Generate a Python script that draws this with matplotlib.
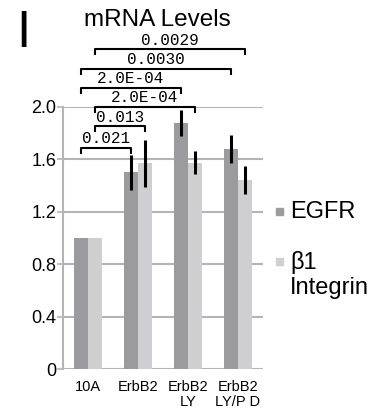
import numpy as np
import matplotlib.pyplot as plt
from matplotlib.patches import Rectangle

# data
groups = ['10A', 'ErbB2', 'ErbB2\nLY', 'ErbB2\nLY/P D']
egfr = [1.0, 1.50, 1.88, 1.68]
egfr_err = [0, 0.136, 0.10, 0.105]
itgb1 = [1.0, 1.57, 1.575, 1.44]
itgb1_err = [0, 0.18, 0.09, 0.107]

# (group a, series a, group b, series b, bracket height, label)
brackets = [
    (0, 0, 1, 0, 1.69, '0.021'),
    (0, 1, 1, 1, 1.853, '0.013'),
    (0, 1, 2, 1, 2.0, '2.0E-04'),
    (0, 0, 2, 0, 2.147, '2.0E-04'),
    (0, 0, 3, 0, 2.29, '0.0030'),
    (0, 1, 3, 1, 2.44, '0.0029'),
]

dark = '#9b9b9f'
light = '#cfcfd1'
gridc = '#b4b4b4'

plt.rcParams['font.family'] = ['Liberation Sans', 'DejaVu Sans']

fig = plt.figure(figsize=(3.71, 4.13), dpi=100)
ax = fig.add_axes([0.17, 0.1065, 0.539, 0.6345])

x = np.arange(len(groups))
w = 0.28
ax.bar(x - w / 2, egfr, w, color=dark, zorder=2)
ax.bar(x + w / 2, itgb1, w, color=light, zorder=2)
ax.errorbar(x - w / 2, egfr, yerr=egfr_err, fmt='none', ecolor='black',
            elinewidth=2.2, capsize=0, zorder=3)
ax.errorbar(x + w / 2, itgb1, yerr=itgb1_err, fmt='none', ecolor='black',
            elinewidth=2.2, capsize=0, zorder=3)

ax.set_xlim(-0.5, 3.5)
ax.set_ylim(0, 2.0)
ax.set_yticks([0, 0.4, 0.8, 1.2, 1.6, 2.0])
ax.set_yticklabels(['0', '0.4', '0.8', '1.2', '1.6', '2.0'], fontsize=13)
ax.set_xticks(x)
ax.set_xticklabels(groups, fontsize=10.5, linespacing=1.05)
ax.tick_params(axis='x', length=0, pad=8)
ax.tick_params(axis='y', length=4, width=1.2, color=gridc, pad=1)
ax.grid(axis='y', color=gridc, linewidth=1.5, zorder=0)
for s in ['top', 'right', 'bottom']:
    ax.spines[s].set_visible(False)
ax.spines['left'].set_color(gridc)
ax.spines['left'].set_linewidth(1.5)

leg = 0.038
for ga, sa, gb, sb, h, lab in brackets:
    xa = ga + (sa - 0.5) * w
    xb = gb + (sb - 0.5) * w
    ax.plot([xa, xa, xb, xb], [h - leg, h, h, h - leg], color='black',
            linewidth=1.5, clip_on=False, zorder=4, solid_joinstyle='round')
    ax.text((xa + xb) / 2, h + 0.012, lab, ha='center', va='bottom',
            fontsize=11.5, family='Liberation Mono', clip_on=False)

fig.text(157 / 371, 0.952, 'mRNA Levels', ha='center', va='center', fontsize=17.5)
fig.text(0.043, 0.918, 'I', ha='left', va='center', fontsize=37)

# legend
fig.patches.append(Rectangle((276 / 371, 1 - 215 / 413), 7 / 371, 7 / 413,
                             transform=fig.transFigure, color=dark))
fig.patches.append(Rectangle((276 / 371, 1 - 265 / 413), 7 / 371, 7 / 413,
                             transform=fig.transFigure, color=light))
fig.text(290 / 371, 1 - 212 / 413, 'EGFR', ha='left', va='center', fontsize=17)
fig.text(290 / 371, 1 - 262 / 413, 'β1', ha='left', va='center', fontsize=17)
fig.text(290 / 371, 1 - 288 / 413, 'Integrin', ha='left', va='center', fontsize=17)

fig.savefig('out.png', dpi=100)
